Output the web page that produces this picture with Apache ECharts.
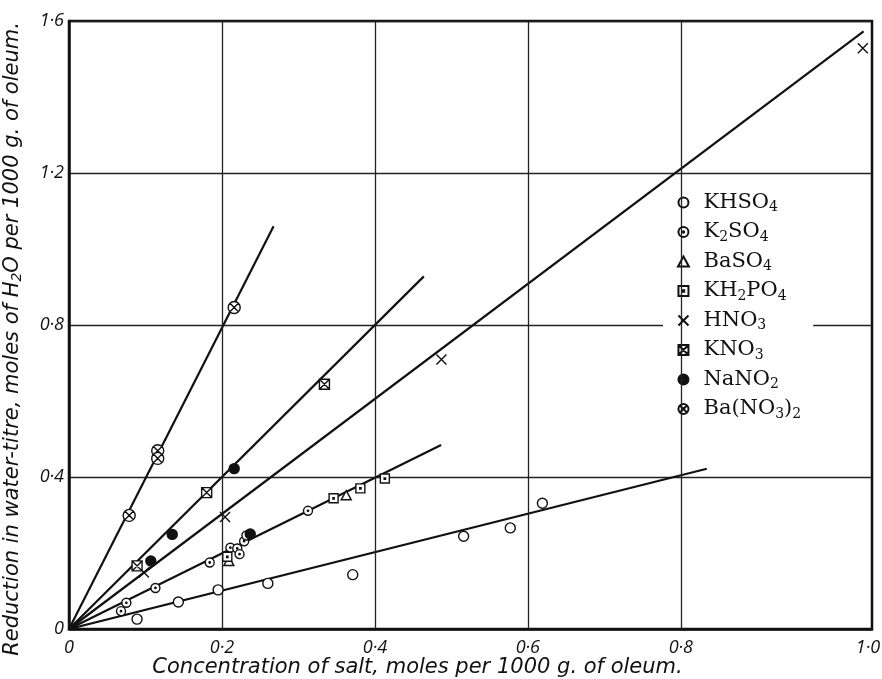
<!DOCTYPE html>
<html><head><meta charset="utf-8">
<script src="https://cdn.jsdelivr.net/npm/echarts@6/dist/echarts.min.js"></script>
<style>html,body{margin:0;padding:0;background:#fff}#c{width:882px;height:679px}</style>
</head><body><div id="c"></div>
<script>
// ---- data ----
const khso4X  = [0.089, 0.143, 0.195, 0.260, 0.371, 0.516, 0.577, 0.619];
const khso4Y  = [0.026, 0.071, 0.103, 0.120, 0.143, 0.244, 0.266, 0.331];
const k2so4X  = [0.068, 0.075, 0.113, 0.184, 0.211, 0.220, 0.223, 0.229, 0.232, 0.3125];
const k2so4Y  = [0.047, 0.069, 0.108, 0.175, 0.214, 0.212, 0.197, 0.231, 0.246, 0.311];
const baso4X  = [0.209, 0.3625];
const baso4Y  = [0.179, 0.352];
const kh2po4X = [0.207, 0.346, 0.381, 0.413];
const kh2po4Y = [0.190, 0.344, 0.370, 0.396];
const hno3X   = [0.098, 0.204, 0.487, 1.038];
const hno3Y   = [0.149, 0.295, 0.709, 1.528];
const kno3X   = [0.089, 0.180, 0.334];
const kno3Y   = [0.166, 0.359, 0.644];
const nano2X  = [0.107, 0.135, 0.216, 0.237];
const nano2Y  = [0.179, 0.249, 0.422, 0.250];
const bano32X = [0.0787, 0.116, 0.116, 0.216];
const bano32Y = [0.299, 0.469, 0.449, 0.846];

// fitted straight lines through the origin: end points
const lineEndX = [0.834, 0.4866, 1.039, 0.464, 0.2675];
const lineEndY = [0.4216, 0.484, 1.573, 0.928, 1.060];

const salts = ['KHSO4', 'K2SO4', 'BaSO4', 'KH2PO4', 'HNO3', 'KNO3', 'NaNO2', 'Ba(NO3)2'];
const xTickValues = [0, 0.2, 0.4, 0.6, 0.8];
const xEndLabel = '1·0';
const gridX = [0.2, 0.4, 0.6, 0.8];

// ---- styling ----
const C = 'M1,10 A9,9 0 1,1 19,10 A9,9 0 1,1 1,10 Z ';
const SYM = {
  'KHSO4':   'path://' + C,
  'K2SO4':   'path://' + C + 'M8.6,10 A1.4,1.4 0 1,1 11.4,10 A1.4,1.4 0 1,1 8.6,10 Z',
  'BaSO4':   'path://M10,1.5 L19,18 L1,18 Z',
  'KH2PO4':  'path://M2,2 L18,2 L18,18 L2,18 Z M8.8,8.8 L11.2,8.8 L11.2,11.2 L8.8,11.2 Z',
  'HNO3':    'path://M2,2 L18,18 M18,2 L2,18',
  'KNO3':    'path://M2,2 L18,2 L18,18 L2,18 Z M2,2 L18,18 M18,2 L2,18',
  'NaNO2':   'path://' + C,
  'Ba(NO3)2':'path://' + C + 'M3.6,3.6 L16.4,16.4 M16.4,3.6 L3.6,16.4'
};
const FILL = {'NaNO2': '#111'};
const SIZE = {'KHSO4': 10, 'K2SO4': 9, 'BaSO4': 10, 'KH2PO4': 9, 'HNO3': 10, 'KNO3': 10, 'NaNO2': 10, 'Ba(NO3)2': 12};
const xs = [khso4X, k2so4X, baso4X, kh2po4X, hno3X, kno3X, nano2X, bano32X];
const ys = [khso4Y, k2so4Y, baso4Y, kh2po4Y, hno3Y, kno3Y, nano2Y, bano32Y];

const dec = v => (v === 0 ? '0' : String(+v.toFixed(2)).replace('.', '·'));
const chem = s => s.replace(/(\D+)|(\d+)/g, (m, a, b) => a ? '{n|' + a + '}' : '{s|' + b + '}');

const series = [];
lineEndX.forEach((ex, i) => {
  series.push({
    name: 'fit' + i, type: 'line', silent: true, symbol: 'none', z: 2,
    data: [[0, 0], [ex, lineEndY[i]]],
    lineStyle: {color: '#111', width: 2.2},
    markLine: i === 0 ? {
      silent: true, symbol: ['none', 'none'], label: {show: false},
      lineStyle: {color: '#222', width: 1.3, type: 'solid'},
      data: gridX.map(v => ({xAxis: v}))
    } : undefined
  });
});
salts.forEach((s, i) => {
  series.push({
    name: s, type: 'scatter', z: 5,
    symbol: SYM[s], symbolSize: SIZE[s], symbolKeepAspect: true,
    data: xs[i].map((x, j) => [x, ys[i][j]]),
    itemStyle: {color: FILL[s] || '#fff', borderColor: '#111', borderWidth: 1.4, opacity: 1}
  });
});

const tickFont = {fontFamily: 'Open Sans', fontStyle: 'italic', fontSize: 18, color: '#111'};

const chart = echarts.init(document.getElementById('c'), null, {renderer: 'canvas'});
chart.setOption({
  animation: false,
  backgroundColor: '#fff',
  grid: {left: 69, right: 10, top: 21, bottom: 50, show: true, borderColor: '#111', borderWidth: 2.5,
         containLabel: false, outerBoundsMode: 'none'},
  xAxis: {
    type: 'value', min: 0, max: 1.05, interval: 0.2,
    splitLine: {show: false}, axisTick: {show: false},
    axisLine: {show: true, lineStyle: {color: '#111', width: 2.5}},
    axisLabel: Object.assign({
      customValues: xTickValues.concat([1.05]),
      formatter: v => (v > 1 ? '{e|' + xEndLabel + '}' : '{t|' + dec(v) + '}'),
      margin: 10,
      rich: {t: tickFont, e: Object.assign({padding: [0, 8, 0, 0]}, tickFont)}
    }, tickFont),
    name: 'Concentration of salt, moles per 1000 g. of oleum.',
    nameLocation: 'middle', nameGap: 28, nameMoveOverlap: false,
    nameTextStyle: {fontFamily: 'DejaVu Sans', fontStyle: 'italic', fontSize: 21, color: '#111', padding: [0, 106, 0, 0]}
  },
  yAxis: {
    type: 'value', min: 0, max: 1.6, interval: 0.4,
    splitLine: {show: true, lineStyle: {color: '#222', width: 1.3}},
    axisTick: {show: false},
    axisLine: {show: true, lineStyle: {color: '#111', width: 2.5}},
    axisLabel: Object.assign({formatter: v => dec(v), margin: 5, padding: [6, 0, 0, 0]}, tickFont),
    name: '{a|Reduction in water-titre, moles of H}{b|2}{a|O per 1000 g. of oleum.}',
    nameLocation: 'middle', nameGap: 45, nameRotate: 90, nameMoveOverlap: false,
    nameTextStyle: {
      color: '#111', padding: [0, 28, 0, 0],
      rich: {
        a: {fontFamily: 'DejaVu Sans', fontStyle: 'italic', fontSize: 21, color: '#111'},
        b: {fontFamily: 'DejaVu Sans', fontStyle: 'italic', fontSize: 14, color: '#111', padding: [9, 0, 0, 0]}
      }
    }
  },
  legend: {
    left: 663, top: 186, orient: 'vertical',
    backgroundColor: '#fff', padding: [6, 12, 12, 14],
    itemWidth: 30, itemHeight: 10, itemGap: 7, symbolKeepAspect: true,
    data: salts.map(s => ({name: s, icon: SYM[s]})),
    formatter: n => chem(n),
    textStyle: {
      color: '#111',
      rich: {
        n: {fontFamily: 'DejaVu Serif', fontSize: 21, color: '#111'},
        s: {fontFamily: 'DejaVu Serif', fontSize: 14, color: '#111', padding: [10, 0, 0, 0]}
      }
    }
  },
  series: series
});
</script></body></html>
